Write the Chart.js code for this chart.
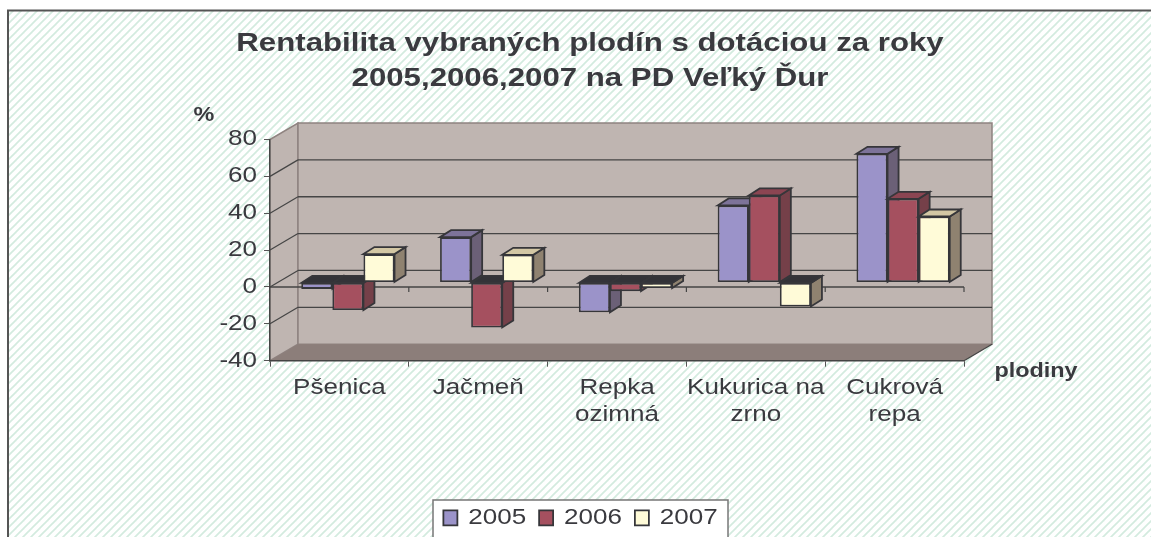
<!DOCTYPE html>
<html><head><meta charset="utf-8">
<style>html,body{margin:0;padding:0;background:#fff;overflow:hidden}canvas{display:block}</style>
<script src="https://cdn.jsdelivr.net/npm/chart.js@4"></script>
</head><body><canvas id="c" width="1151" height="537"></canvas>
<script>
const categories = ['Pšenica','Jačmeň',['Repka','ozimná'],['Kukurica na','zrno'],['Cukrová','repa']];
const years = ['2005','2006','2007'];
const values2005 = [-3.5, 24.6, -16.2, 41.8, 69.8];
const values2006 = [-15, -24.4, -4.7, 47.2, 45.4];
const values2007 = [15.4, 15, -3, -13, 35.8];
const titleLines = ['Rentabilita vybraných plodín s dotáciou za roky','2005,2006,2007 na PD Veľký Ďur'];
const yAxisName = '%', xAxisName = 'plodiny';

const FONT = '"Liberation Sans", Arial, sans-serif';
const TEXT = '#3a3a3f', DARK = '#36363a';
const STRETCH = 1.2;
const WALL = {dx:28, dy:16.5, color:'#bfb5b1', floor:'#8c7e7a', edge:'#8f8380'};
const BAR = {dx:11, dy:7, fx:8.5, fy:-4.5};
const FILL = ['#9b93c9','#a5505f','#fffbd8'];
const SIDE = ['#6b6077','#754049','#8f8270'];
const TOP = ['#7d7399','#8b4552','#d3c7a4'];

const canvas = document.getElementById('c');
const ctx = canvas.getContext('2d');
const rawFill = ctx.fillText.bind(ctx), rawMeasure = ctx.measureText.bind(ctx);
ctx.fillText = function(t,x,y,m){ ctx.save(); ctx.translate(x,y); ctx.scale(STRETCH,1); rawFill(t,0,0); ctx.restore(); };
ctx.measureText = function(t){ return {width: rawMeasure(t).width*STRETCH}; };

function poly(c,pts,fill,stroke,lw){
  c.beginPath(); pts.forEach((p,i)=> i? c.lineTo(p[0],p[1]) : c.moveTo(p[0],p[1])); c.closePath();
  if(fill){c.fillStyle=fill;c.fill();}
  if(stroke){c.strokeStyle=stroke;c.lineWidth=lw||1;c.stroke();}
}
function line(c,x1,y1,x2,y2,col,lw){c.beginPath();c.moveTo(x1,y1);c.lineTo(x2,y2);c.strokeStyle=col;c.lineWidth=lw||1;c.stroke();}

const scene = {
  id:'scene',
  afterInit(chart){
    const lg = chart.legend, fit = lg.fit;
    lg.fit = function(){ fit.call(this); this.height = 43; };
  },
  afterLayout(chart){ chart.legend.left -= 9.5; chart.legend.right -= 9.5; },
  beforeDraw(chart){
    const c = chart.ctx, W = chart.width, H = chart.height;
    c.save();
    c.fillStyle='#fff'; c.fillRect(0,0,W,H);
    const p = document.createElement('canvas'); p.width=p.height=8;
    const q = p.getContext('2d'); q.strokeStyle='#d3ebdf'; q.lineWidth=1.7;
    [[-8,8,8,-8],[0,8,8,0],[0,16,16,0]].forEach(a=>{q.beginPath();q.moveTo(a[0],a[1]);q.lineTo(a[2],a[3]);q.stroke();});
    c.fillStyle = c.createPattern(p,'repeat'); c.fillRect(8,11,W-8,H-11);
    line(c,7,10.5,W,10.5,'#555',2); line(c,8,10,8,H,'#555',2);

    const x = chart.scales.x, y = chart.scales.y, {dx,dy} = WALL;
    const L=x.left, R=x.right, T=y.top, B=y.bottom;
    poly(c,[[L,T],[L+dx,T-dy],[L+dx,B-dy],[L,B]],WALL.color,WALL.edge,1.5);
    poly(c,[[L+dx,T-dy],[R+dx,T-dy],[R+dx,B-dy],[L+dx,B-dy]],WALL.color,WALL.edge,1.5);
    poly(c,[[L,B],[L+dx,B-dy],[R+dx,B-dy],[R,B]],WALL.floor,null);
    line(c,R,B,R+dx,B-dy,'#444',1.2);
    y.ticks.forEach(t=>{
      const py = y.getPixelForValue(t.value);
      if(t.value>y.min && t.value<y.max){
        line(c,L,py,L+dx,py-dy,'#454545',1.2);
        line(c,L+dx,py-dy,R+dx,py-dy,'#454545',1.3);
      }
    });
    const z = y.getPixelForValue(0);
    line(c,L,z,R,z,'#454545',1.4);
    for(let i=1;i<=categories.length;i++){ const px=L+(R-L)*i/categories.length; line(c,px,z,px,z+5,'#454545',1.2); }

    c.fillStyle='#fff'; c.fillRect(433,500,295,H-500);
    c.strokeStyle='#777'; c.lineWidth=1.5; c.strokeRect(433,500,295,H-500+4);
    c.restore();
  },
  beforeDatasetsDraw(chart){
    const c = chart.ctx, {dx,dy,fx,fy} = BAR;
    chart.data.datasets.forEach((ds,i)=>{
      const meta = chart.getDatasetMeta(i);
      c.save(); c.translate(fx,fy);
      meta.data.forEach((el,j)=>{
        const pr = el.getProps(['x','y','base','width'],true);
        const l=pr.x-pr.width/2, r=pr.x+pr.width/2, t=Math.min(pr.y,pr.base), b=Math.max(pr.y,pr.base);
        const neg = ds.data[j] < 0;
        poly(c,[[r,t],[r+dx,t-dy],[r+dx,b-dy],[r,b]],SIDE[i],DARK,1.8);
        poly(c,[[l,t],[l+dx,t-dy],[r+dx,t-dy],[r,t]],neg?'#333338':TOP[i],DARK,1.8);
      });
      meta.controller.draw();
      c.restore();
    });
    return false;
  },
  afterDraw(chart){
    const c = chart.ctx; c.save();
    c.font = 'bold 19.5px '+FONT; c.fillStyle=TEXT; c.textAlign='center'; c.textBaseline='middle';
    c.fillText(yAxisName,204,116); c.fillText(xAxisName,1036,372);
    c.restore();
  }
};

new Chart(ctx,{
  type:'bar',
  plugins:[scene],
  data:{labels:categories,datasets:[values2005,values2006,values2007].map((d,i)=>({
    label:years[i],data:d,backgroundColor:FILL[i],borderColor:DARK,borderWidth:1.8,borderSkipped:false,clip:false,
    categoryPercentage:0.672,barPercentage:1
  }))},
  options:{
    responsive:false,animation:false,
    layout:{padding:{left:216,right:187,top:26.5,bottom:0}},
    plugins:{
      title:{display:true,text:titleLines,color:TEXT,font:{family:FONT,size:26,weight:'bold',lineHeight:1.35},padding:{top:0,bottom:42.8}},
      legend:{display:true,position:'bottom',labels:{color:TEXT,font:{family:FONT,size:21.7},boxWidth:14,boxHeight:15,padding:13}},
      tooltip:{enabled:false}
    },
    scales:{
      x:{offset:true,
        grid:{display:true,drawOnChartArea:false,drawTicks:true,tickLength:6,color:'#555'},
        border:{display:true,color:'#444',width:1.4},
        ticks:{color:TEXT,autoSkip:false,maxRotation:0,minRotation:0,padding:7,font:{family:FONT,size:21.7,lineHeight:1.28}},
        afterFit(s){s.height=537-360.7-43;}
      },
      y:{min:-40,max:80,
        grid:{display:true,drawOnChartArea:false,drawTicks:true,tickLength:6,color:'#555'},
        border:{display:true,color:'#444',width:1.4},
        ticks:{stepSize:20,color:TEXT,padding:7,font:{family:FONT,size:21.7}},
        afterFit(s){s.width=54;}
      }
    }
  }
});
</script></body></html>
